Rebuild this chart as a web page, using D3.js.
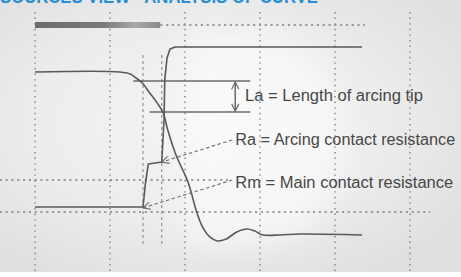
<!DOCTYPE html>
<html lang="en">
<head>
    <meta charset="utf-8">
    <title>Analysis of curve</title>
    <style>
        body { margin: 0; background: #fff; }
        svg { display: block; }
        .grid { fill: none; stroke: #808080; stroke-width: 1.4px; stroke-dasharray: 1.4 4.2; }
        .ref { fill: none; stroke: #808080; stroke-width: 1.4px; stroke-dasharray: 2.2 3.6; }
        .marker-line { fill: none; stroke: #8a8a8a; stroke-width: 1.1px; stroke-dasharray: 3 3; }
        .curve { fill: none; stroke: #595959; stroke-width: 1.6px; stroke-linejoin: round; }
        .la { fill: none; stroke: #6a6a6a; stroke-width: 1.5px; }
        .pointer { fill: none; stroke: #6e6e6e; stroke-width: 1.1px; stroke-dasharray: 3.5 2.5; }
        .label { font-family: "Liberation Sans Narrow", "Liberation Sans", Arial, sans-serif; font-size: 16px; fill: #474747; }
        .title { font-family: "Liberation Sans", Arial, sans-serif; font-weight: bold; font-size: 19px; fill: #2b8fd6; }
    </style>
</head>
<body>
<script src="https://cdn.jsdelivr.net/npm/d3@7"></script>
<script>

    // ************** Data (time in ms, value in % of full scale) *****************
    var title = "SOURCES VIEW - ANALYSIS OF CURVE";

    var gridTimes = [0, 10, 20, 30, 40, 50];
    var contactMarks = [14.4, 16.9];            // Rm and Ra change points

    // contact travel (falls during opening)
    var travelCurve = [
        [0, 79.1], [11.3, 79.1], [12.7, 78.2], [13.5, 76.4], [14.3, 74.2],
        [15.3, 69.8], [16.3, 65.3], [17.1, 60.9], [17.7, 53.3], [18.8, 42.2],
        [20.4, 30.2], [21.6, 16.4], [22.4, 9.8], [23.3, 5.8], [24.3, 4.0],
        [25.5, 4.9], [26.9, 8.0], [28.3, 9.3], [29.3, 8.4], [30.4, 6.7],
        [32.7, 6.7], [35.3, 7.1], [43.6, 6.7]
    ];

    // dynamic contact resistance (steps up: main -> arcing -> open)
    var resistanceCurve = [
        [0, 19.1], [14.4, 19.1], [14.7, 28.9], [15.1, 38.2], [16.9, 39.1],
        [17.2, 57.8], [17.3, 75.6], [17.6, 85.3], [18.0, 89.3], [18.7, 90.2],
        [43.6, 90.2]
    ];

    // breaker command bar and dotted reference levels
    var commandBar = [0, 16.7];
    var commandLevel = 100;
    var refLevels = [100, 31.1, 16.9];
    var refSpans = [[16.7, 44], [-4.7, 26.2], [-4.7, 52.7]];

    // arcing tip length
    var laLevels = [75.1, 61.3];
    var laSpans = [[13.1, 28.7], [15.3, 28.7]];
    var laArrowTime = 26.7;

    var labels = ["La = Length of arcing tip", "Ra = Arcing contact resistance", "Rm = Main contact resistance"];
    var labelTimes = [28.0, 26.7, 26.7];
    var labelLevels = [66.2, 46.7, 27.6];
    var labelWidths = [178, 220, 218];

    // pointer lines: [from time, from level, to time, to level]
    var pointers = [
        [26.3, 48.9, 16.9, 39.1],
        [26.3, 31.1, 14.4, 18.7]
    ];

    // ************** Chart *****************
    var width = 461, height = 277;

    var x = d3.scaleLinear().domain([0, 50]).range([35, 410]);
    var y = d3.scaleLinear().domain([0, 100]).range([250, 25]);

    var svg = d3.select("body").append("svg")
            .attr("width", width)
            .attr("height", height);

    var defs = svg.append("defs");

    var bg = defs.append("radialGradient").attr("id", "bg")
            .attr("cx", "45%").attr("cy", "45%").attr("r", "65%");
    bg.append("stop").attr("offset", "0%").attr("stop-color", "#f5f5f5");
    bg.append("stop").attr("offset", "60%").attr("stop-color", "#ececec");
    bg.append("stop").attr("offset", "100%").attr("stop-color", "#e0e0e0");

    var bar = defs.append("linearGradient").attr("id", "bar");
    bar.append("stop").attr("offset", "0%").attr("stop-color", "#6c6c6c");
    bar.append("stop").attr("offset", "55%").attr("stop-color", "#7a7a7a");
    bar.append("stop").attr("offset", "80%").attr("stop-color", "#a8a8a8");
    bar.append("stop").attr("offset", "100%").attr("stop-color", "#8a8a8a");

    defs.append("filter").attr("id", "soft")
            .attr("x", "-30%").attr("y", "-30%").attr("width", "160%").attr("height", "160%")
        .append("feGaussianBlur").attr("stdDeviation", 14);

    defs.append("marker").attr("id", "open-arrow")
            .attr("viewBox", "0 0 10 10").attr("refX", 9).attr("refY", 5)
            .attr("markerWidth", 9).attr("markerHeight", 9)
            .attr("markerUnits", "userSpaceOnUse")
            .attr("orient", "auto-start-reverse")
        .append("path")
            .attr("d", "M1,1 L9,5 L1,9")
            .attr("fill", "none").attr("stroke", "#6a6a6a").attr("stroke-width", 1.3);

    svg.append("rect").attr("width", width).attr("height", 272).attr("fill", "url(#bg)");

    // faint watermark
    svg.append("path")
            .attr("d", "M185,35 L260,35 A85,105 0 0 1 260,245 L185,245 Z")
            .attr("fill", "#ffffff").attr("opacity", 0.5)
            .attr("filter", "url(#soft)");

    // title (cut by the top edge, as in the source)
    svg.append("text").attr("class", "title")
            .attr("x", 0).attr("y", 3)
            .attr("textLength", 318).attr("lengthAdjust", "spacingAndGlyphs")
            .text(title);

    // vertical grid
    svg.selectAll("line.grid").data(gridTimes).enter().append("line")
            .attr("class", "grid")
            .attr("x1", function(d) { return x(d); }).attr("x2", function(d) { return x(d); })
            .attr("y1", 12).attr("y2", 272);

    // horizontal reference levels
    svg.selectAll("line.ref").data(refLevels).enter().append("line")
            .attr("class", "ref")
            .attr("x1", function(d, i) { return x(refSpans[i][0]); })
            .attr("x2", function(d, i) { return x(refSpans[i][1]); })
            .attr("y1", function(d) { return y(d); }).attr("y2", function(d) { return y(d); });

    // contact change markers
    svg.selectAll("line.marker-line").data(contactMarks).enter().append("line")
            .attr("class", "marker-line")
            .attr("x1", function(d) { return x(d); }).attr("x2", function(d) { return x(d); })
            .attr("y1", y(86.7)).attr("y2", y(1.3));

    // command bar
    svg.append("rect")
            .attr("x", x(commandBar[0])).attr("width", x(commandBar[1]) - x(commandBar[0]))
            .attr("y", y(commandLevel) - 3).attr("height", 6)
            .attr("fill", "url(#bar)");

    // arcing tip lines
    svg.selectAll("line.la").data(laLevels).enter().append("line")
            .attr("class", "la")
            .attr("x1", function(d, i) { return x(laSpans[i][0]); })
            .attr("x2", function(d, i) { return x(laSpans[i][1]); })
            .attr("y1", function(d) { return y(d); }).attr("y2", function(d) { return y(d); });

    svg.append("line").attr("class", "la")
            .attr("x1", x(laArrowTime)).attr("x2", x(laArrowTime))
            .attr("y1", y(laLevels[0]) + 1).attr("y2", y(laLevels[1]) - 1)
            .attr("marker-start", "url(#open-arrow)")
            .attr("marker-end", "url(#open-arrow)");

    var line = d3.line()
            .x(function(d) { return x(d[0]); })
            .y(function(d) { return y(d[1]); });

    svg.append("path").attr("class", "curve")
            .attr("d", line.curve(d3.curveCatmullRom.alpha(0.5))(travelCurve));

    svg.append("path").attr("class", "curve")
            .attr("d", line.curve(d3.curveLinear)(resistanceCurve));

    // pointers
    svg.selectAll("line.pointer").data(pointers).enter().append("line")
            .attr("class", "pointer")
            .attr("x1", function(d) { return x(d[0]); }).attr("y1", function(d) { return y(d[1]); })
            .attr("x2", function(d) { return x(d[2]); }).attr("y2", function(d) { return y(d[3]); })
            .attr("marker-end", "url(#open-arrow)");

    // labels
    svg.selectAll("text.label").data(labels).enter().append("text")
            .attr("class", "label")
            .attr("x", function(d, i) { return x(labelTimes[i]); })
            .attr("y", function(d, i) { return y(labelLevels[i]); })
            .attr("textLength", function(d, i) { return labelWidths[i]; })
            .attr("lengthAdjust", "spacingAndGlyphs")
            .text(function(d) { return d; });

</script>
</body>
</html>
